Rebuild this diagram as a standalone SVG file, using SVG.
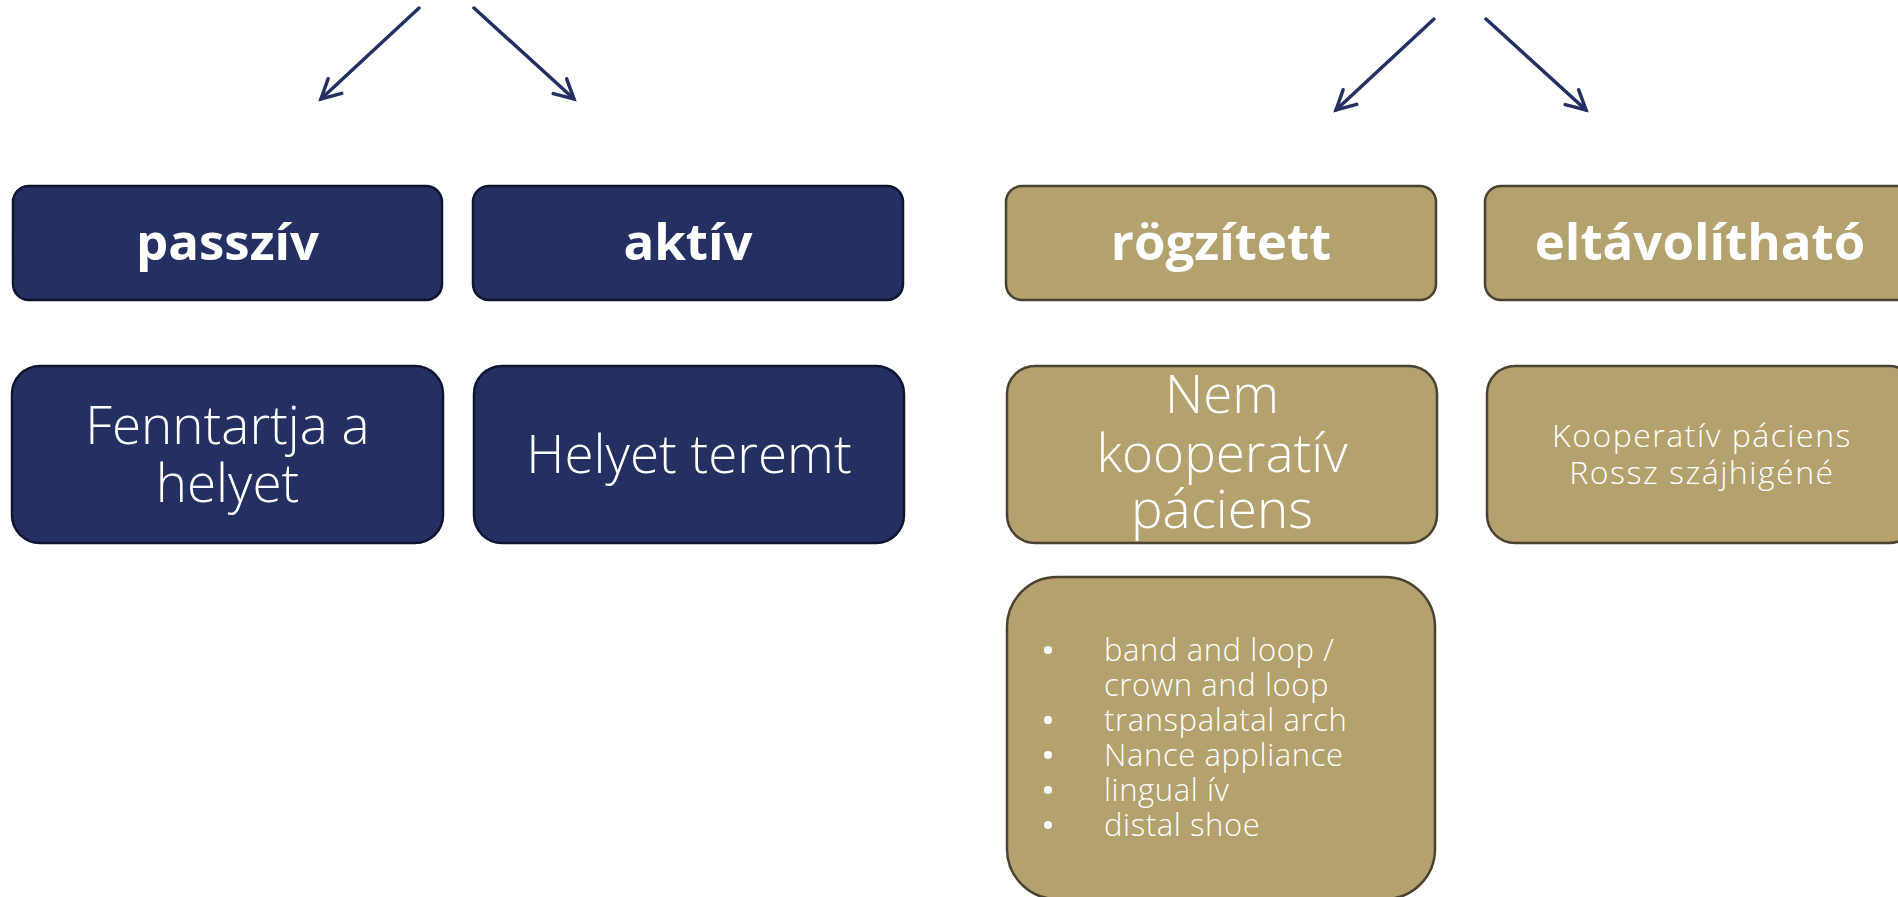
<svg xmlns="http://www.w3.org/2000/svg" width="1898" height="897" viewBox="0 0 1898 897">
<style>
.navy{fill:#243062;stroke:#0e1432;stroke-width:2.5}
.gold{fill:#b3a16e;stroke:#4a4230;stroke-width:2.5}
.hdr{font-family:"Open Sans","Liberation Sans",sans-serif;font-weight:700;font-size:51px;fill:#ffffff;text-anchor:middle}
.big{font-family:"Open Sans","Liberation Sans",sans-serif;font-weight:300;font-size:53px;fill:#ffffff;text-anchor:middle}
.mid{font-family:"Open Sans","Liberation Sans",sans-serif;font-weight:300;font-size:32px;letter-spacing:1.5px;fill:#ffffff;text-anchor:middle}
.lst{font-family:"Open Sans","Liberation Sans",sans-serif;font-weight:300;font-size:31px;letter-spacing:0.6px;fill:#ffffff}
.bul{fill:#ffffff}
.arr{fill:none;stroke:#243062;stroke-width:3.5;stroke-linecap:round;marker-end:url(#ah)}
</style>
<defs>
<marker id="ah" markerUnits="userSpaceOnUse" markerWidth="40" markerHeight="40" refX="0" refY="0" orient="auto" viewBox="-30 -20 40 40" overflow="visible">
<path d="M-19,-10 L0,0 L-19,10" fill="none" stroke="#243062" stroke-width="3.5" stroke-linecap="round" stroke-linejoin="miter"/>
</marker>
</defs>
<rect width="1898" height="897" fill="#ffffff"/>
<g id="connectors">
<line class="arr" x1="419" y1="8" x2="321" y2="99"/>
<line class="arr" x1="474" y1="8" x2="574" y2="99"/>
<line class="arr" x1="1434" y1="19" x2="1336" y2="110"/>
<line class="arr" x1="1486" y1="19" x2="1586" y2="110"/>
</g>
<g id="passziv">
<rect class="navy" x="13" y="186" width="429" height="114" rx="16"/>
<text class="hdr" x="227.5" y="260">passzív</text>
</g>
<g id="aktiv">
<rect class="navy" x="473" y="186" width="430" height="114" rx="16"/>
<text class="hdr" x="688" y="260">aktív</text>
</g>
<g id="rogzitett">
<rect class="gold" x="1006" y="186" width="430" height="114" rx="16"/>
<text class="hdr" x="1221" y="260">rögzített</text>
</g>
<g id="eltavolithato">
<rect class="gold" x="1485" y="186" width="430" height="114" rx="16"/>
<text class="hdr" x="1700" y="260">eltávolítható</text>
</g>
<g id="fenntartja">
<rect class="navy" x="12" y="366" width="431" height="177" rx="28"/>
<text class="big" x="227.5" y="444">Fenntartja a</text>
<text class="big" x="227.5" y="502">helyet</text>
</g>
<g id="helyet-teremt">
<rect class="navy" x="474" y="366" width="430" height="177" rx="28"/>
<text class="big" x="689" y="473">Helyet teremt</text>
</g>
<g id="nem-kooperativ">
<rect class="gold" x="1007" y="366" width="430" height="177" rx="28"/>
<text class="big" x="1222" y="413">Nem</text>
<text class="big" x="1222" y="472">kooperatív</text>
<text class="big" x="1222" y="528">páciens</text>
</g>
<g id="kooperativ">
<rect class="gold" x="1487" y="366" width="430" height="177" rx="28"/>
<text class="mid" x="1702" y="447">Kooperatív páciens</text>
<text class="mid" x="1702" y="484">Rossz szájhigéné</text>
</g>
<g id="lista">
<rect class="gold" x="1007" y="577" width="428" height="322" rx="50"/>
<circle class="bul" cx="1048" cy="650" r="4"/>
<circle class="bul" cx="1048" cy="720" r="4"/>
<circle class="bul" cx="1048" cy="755" r="4"/>
<circle class="bul" cx="1048" cy="790" r="4"/>
<circle class="bul" cx="1048" cy="825" r="4"/>
<text class="lst" x="1104" y="661">band and loop /</text>
<text class="lst" x="1104" y="696">crown and loop</text>
<text class="lst" x="1104" y="731">transpalatal arch</text>
<text class="lst" x="1104" y="766">Nance appliance</text>
<text class="lst" x="1104" y="801">lingual ív</text>
<text class="lst" x="1104" y="836">distal shoe</text>
</g>
</svg>
